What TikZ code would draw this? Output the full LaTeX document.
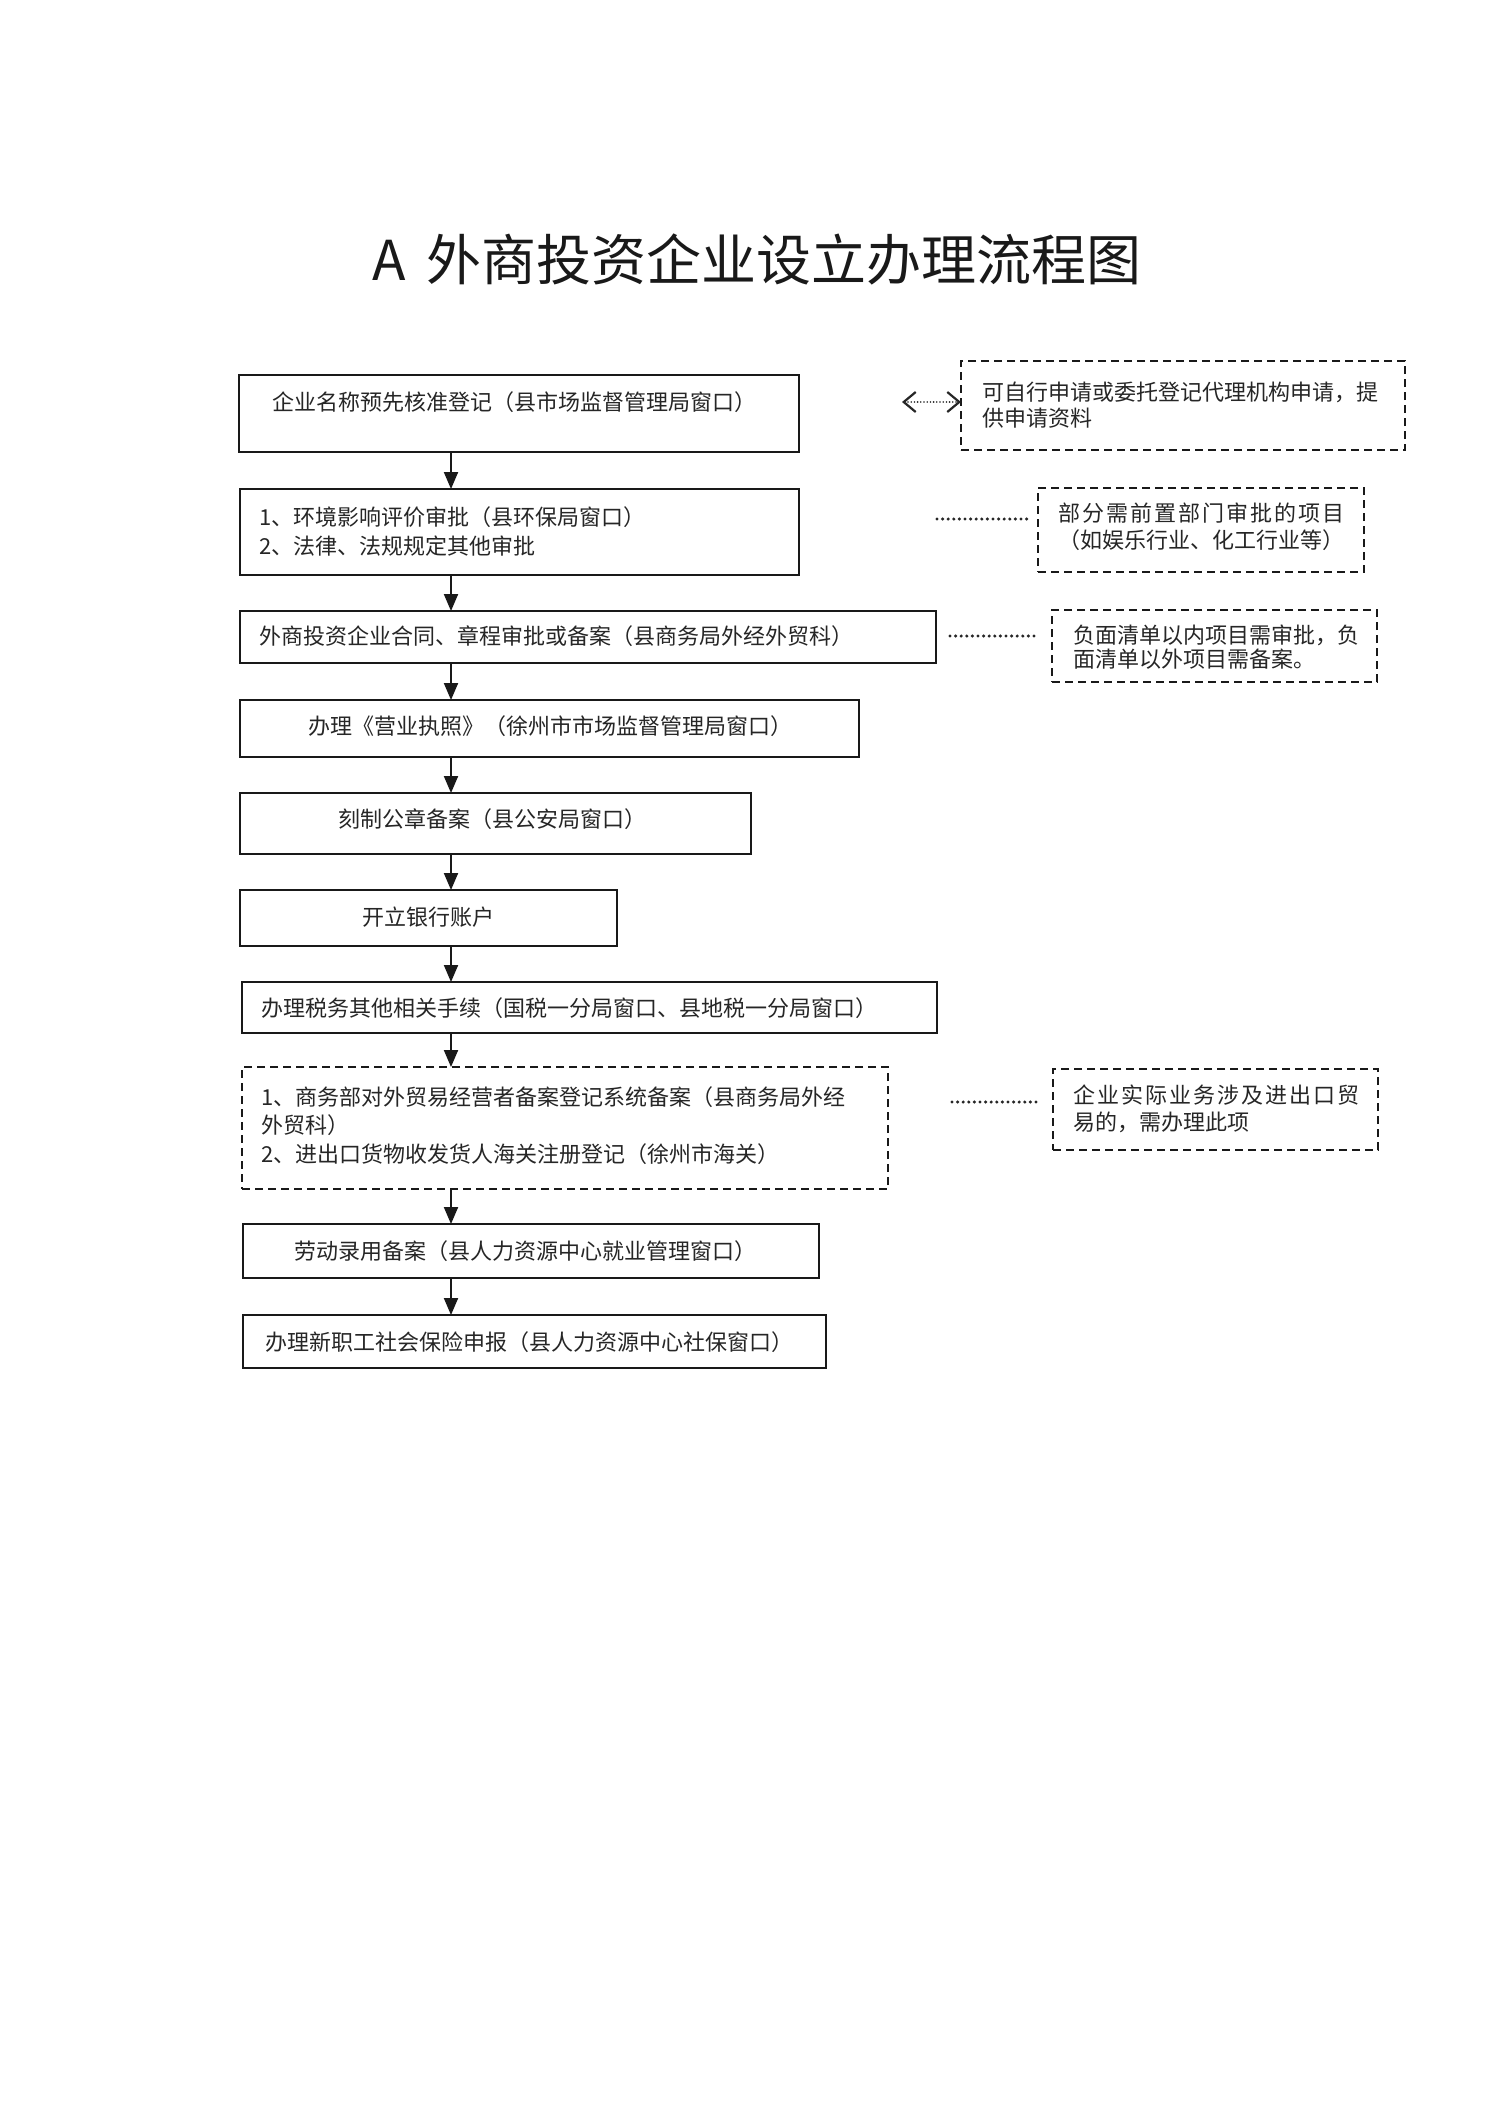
\documentclass[tikz,border=0pt]{standalone}
\usepackage{fontspec}
\setmainfont{Noto Sans CJK SC}
\newfontfamily\cjksp[LetterSpace=9]{Noto Sans CJK SC}
\usetikzlibrary{arrows.meta}
\begin{document}
\begin{tikzpicture}[x=0.5pt,y=-0.5pt,
  box/.style={draw=black!90, line width=1pt, anchor=north west, inner sep=0pt, outer sep=0pt},
  dbox/.style={box, dash pattern=on 4pt off 2.5pt},
  txt/.style={anchor=base west, inner sep=0pt, font=\fontsize{11}{13}\selectfont, text=black!85},
  stxt/.style={txt, font=\cjksp\fontsize{11}{13}\selectfont},
  ttl/.style={anchor=base west, inner sep=0pt, font=\fontsize{27.5}{30}\selectfont, text=black!90},
  arr/.style={line width=1pt, draw=black!90, -{Triangle[length=8.5pt,width=7pt]}},
  dotline/.style={line width=1.7pt, dash pattern=on 0pt off 2.8pt, line cap=round, draw=black!85},
  dblarr/.style={line width=0.9pt, draw=black!85, dash pattern=on 0pt off 1.6pt, line cap=round,
     {Straight Barb[length=6pt,width=10pt,line width=1.1pt]}-{Straight Barb[length=6pt,width=10pt,line width=1.1pt]}},
]
\useasboundingbox[fill=white] (0,0) rectangle (1500,2117);

% title
\node[ttl] (tA) at (372,280) {A};
\node[ttl] (tT) at (426,280) {外商投资企业设立办理流程图};

% main boxes
\node[box, minimum width=280pt, minimum height=38.5pt] (b1) at (239,375) {};
\node[box, minimum width=279.5pt, minimum height=43pt] (b2) at (240,489) {};
\node[box, minimum width=348pt, minimum height=26pt] (b3) at (240,611) {};
\node[box, minimum width=309.5pt, minimum height=28.5pt] (b4) at (240,700) {};
\node[box, minimum width=255.5pt, minimum height=30.5pt] (b5) at (240,793) {};
\node[box, minimum width=188.5pt, minimum height=28pt] (b6) at (240,890) {};
\node[box, minimum width=347.5pt, minimum height=25.5pt] (b7) at (242,982) {};
\node[dbox, minimum width=323pt, minimum height=61pt] (b8) at (242,1067) {};
\node[box, minimum width=288pt, minimum height=27pt] (b9) at (243,1224) {};
\node[box, minimum width=291.5pt, minimum height=26.5pt] (b10) at (243,1315) {};

% side boxes
\node[dbox, minimum width=222pt, minimum height=44.5pt] (r1) at (961,361) {};
\node[dbox, minimum width=163pt, minimum height=42pt] (r2) at (1038,488) {};
\node[dbox, minimum width=162.5pt, minimum height=36pt] (r3) at (1052,610) {};
\node[dbox, minimum width=162.5pt, minimum height=40.5pt] (r4) at (1053,1069) {};

% texts of main boxes
\node[txt] (t1) at (272,410) {企业名称预先核准登记（县市场监督管理局窗口）};
\node[txt] (t2a) at (259,525) {1、环境影响评价审批（县环保局窗口）};
\node[txt] (t2b) at (259,554) {2、法律、法规规定其他审批};
\node[txt] (t3) at (259,644) {外商投资企业合同、章程审批或备案（县商务局外经外贸科）};
\node[txt] (t4) at (308,734) {办理《营业执照》（徐州市市场监督管理局窗口）};
\node[txt] (t5) at (338,827) {刻制公章备案（县公安局窗口）};
\node[txt] (t6) at (362,925) {开立银行账户};
\node[txt] (t7) at (261,1016) {办理税务其他相关手续（国税一分局窗口、县地税一分局窗口）};
\node[txt] (t8a) at (261,1105) {1、商务部对外贸易经营者备案登记系统备案（县商务局外经};
\node[txt] (t8b) at (261,1133) {外贸科）};
\node[txt] (t8c) at (261,1162) {2、进出口货物收发货人海关注册登记（徐州市海关）};
\node[txt] (t9) at (294,1259) {劳动录用备案（县人力资源中心就业管理窗口）};
\node[txt] (t10) at (265,1350) {办理新职工社会保险申报（县人力资源中心社保窗口）};

% texts of side boxes
\node[txt] (s1a) at (982,400) {可自行申请或委托登记代理机构申请，提};
\node[txt] (s1b) at (982,426) {供申请资料};
\node[stxt] (s2a) at (1058,521) {部分需前置部门审批的项目};
\node[txt] (s2b) at (1058,548) {（如娱乐行业、化工行业等）};
\node[txt] (s3a) at (1073,643) {负面清单以内项目需审批，负};
\node[txt] (s3b) at (1073,667) {面清单以外项目需备案。};
\node[stxt] (s4a) at (1073,1103) {企业实际业务涉及进出口贸};
\node[txt] (s4b) at (1073,1130) {易的，需办理此项};

% flow arrows
\coordinate (ax) at (451,0);
\draw[arr] (b1.south -| ax) -- (b2.north -| ax);
\draw[arr] (b2.south -| ax) -- (b3.north -| ax);
\draw[arr] (b3.south -| ax) -- (b4.north -| ax);
\draw[arr] (b4.south -| ax) -- (b5.north -| ax);
\draw[arr] (b5.south -| ax) -- (b6.north -| ax);
\draw[arr] (b6.south -| ax) -- (b7.north -| ax);
\draw[arr] (b7.south -| ax) -- (b8.north -| ax);
\draw[arr] (b8.south -| ax) -- (b9.north -| ax);
\draw[arr] (b9.south -| ax) -- (b10.north -| ax);

% side connectors
\coordinate (a1) at (902,402);
\draw[dblarr] (a1) -- (a1 -| r1.west);
\coordinate (c2) at (937,519);
\draw[dotline, shorten >=5.5pt] (c2) -- (c2 -| r2.west);
\coordinate (c3) at (950,636);
\draw[dotline, shorten >=7pt] (c3) -- (c3 -| r3.west);
\coordinate (c4) at (952,1102);
\draw[dotline, shorten >=7.5pt] (c4) -- (c4 -| r4.west);
\end{tikzpicture}
\end{document}
